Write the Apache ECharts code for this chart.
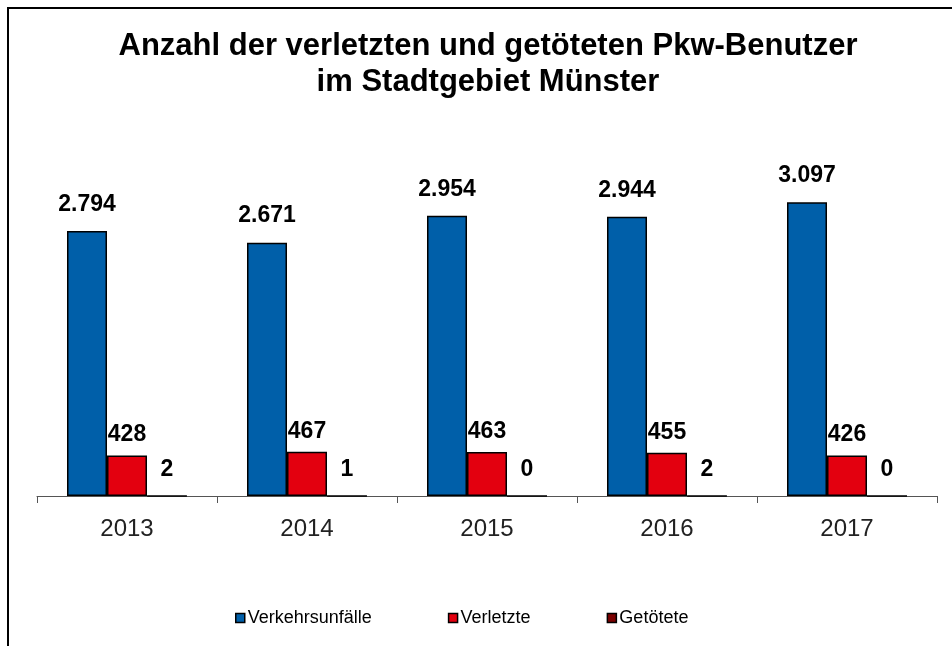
<!DOCTYPE html>
<html>
<head>
<meta charset="utf-8">
<script src="https://cdn.jsdelivr.net/npm/echarts@6/dist/echarts.min.js"></script>
<style>
  html, body { margin: 0; padding: 0; background: #fff; }
  #chart { width: 952px; height: 646px; }
</style>
</head>
<body>
<div id="chart"></div>
<script>
  // Jahre und Werte
  var years = ['2013', '2014', '2015', '2016', '2017'];
  var unfaelle = [2794, 2671, 2954, 2944, 3097];
  var verletzte = [428, 467, 463, 455, 426];
  var getoetete = [2, 1, 0, 2, 0];

  var colors = ['#005FA9', '#E3000F', '#7B0000'];

  // Tausenderpunkt wie im Original
  function fmt(v) {
    return String(v).replace(/\B(?=(\d{3})+(?!\d))/g, '.');
  }

  function barSeries(name, data, color, dist) {
    return {
      name: name,
      type: 'bar',
      data: data,
      barWidth: 40,
      barGap: '0%',
      itemStyle: { color: color, borderColor: '#000', borderWidth: 1.5 },
      label: {
        show: true,
        position: 'top',
        distance: dist,
        color: '#000',
        fontFamily: 'Liberation Sans, Arial, sans-serif',
        fontWeight: 'bold',
        fontSize: 23,
        formatter: function (p) { return fmt(p.value); }
      }
    };
  }

  var myChart = echarts.init(document.getElementById('chart'));
  myChart.setOption({
    backgroundColor: '#fff',
    animation: false,
    title: {
      text: 'Anzahl der verletzten und getöteten Pkw-Benutzer\nim Stadtgebiet Münster',
      left: 483,
      textAlign: 'center',
      top: 23,
      textStyle: {
        fontFamily: 'Liberation Sans, Arial, sans-serif',
        fontWeight: 'bold',
        fontSize: 31,
        lineHeight: 36,
        color: '#000'
      }
    },
    legend: {
      left: 230,
      top: 604,
      itemWidth: 9,
      itemHeight: 9,
      itemGap: 76,
      icon: 'rect',
      textStyle: {
        fontFamily: 'Liberation Sans, Arial, sans-serif',
        fontSize: 18,
        color: '#000',
        padding: [0, 0, 0, -2]
      },
      itemStyle: { borderColor: '#000', borderWidth: 1.5 },
      data: ['Verkehrsunfälle', 'Verletzte', 'Getötete']
    },
    grid: { left: 37, right: 15, top: 164, bottom: 150 },
    xAxis: {
      type: 'category',
      data: years,
      axisLine: { lineStyle: { color: '#555', width: 1 } },
      axisTick: { show: true, length: 7, lineStyle: { color: '#555' } },
      axisLabel: {
        margin: 21,
        fontFamily: 'Liberation Sans, Arial, sans-serif',
        fontSize: 24,
        color: '#222'
      }
    },
    yAxis: {
      type: 'value',
      min: 0,
      max: 3500,
      show: false,
      splitLine: { show: false }
    },
    series: [
      barSeries('Verkehrsunfälle', unfaelle, colors[0], 15),
      barSeries('Verletzte', verletzte, colors[1], 9),
      barSeries('Getötete', getoetete, colors[2], 14)
    ],
    graphic: [{
      type: 'polyline',
      shape: { points: [[8, 646], [8, 8], [952, 8]] },
      style: { stroke: '#000', lineWidth: 2, fill: null }
    }]
  });
</script>
</body>
</html>
